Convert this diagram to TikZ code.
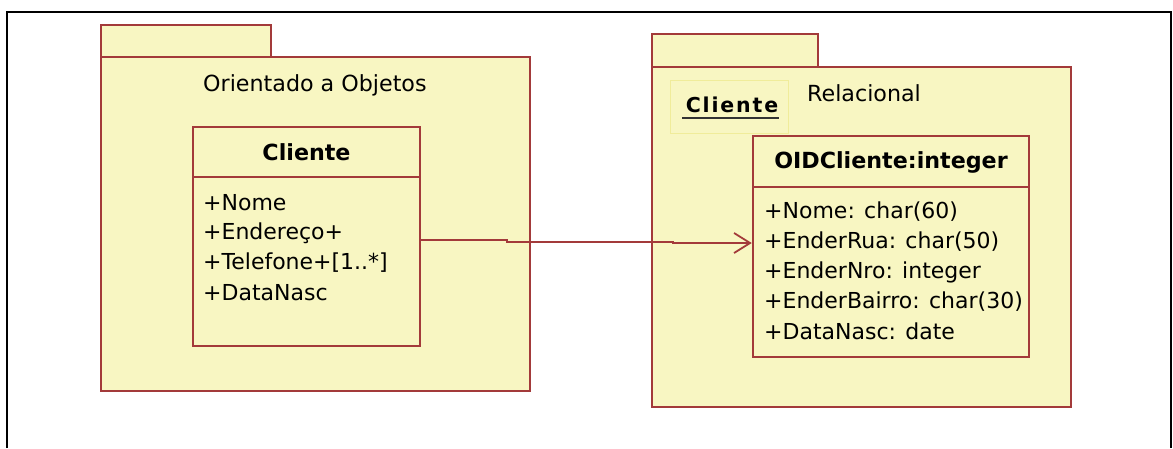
\documentclass[tikz,border=0pt]{standalone}
\usepackage{fontspec}
\setmainfont{DejaVu Sans}
\usetikzlibrary{arrows.meta}
\definecolor{pkgfill}{HTML}{F8F6C2}
\definecolor{pkgline}{HTML}{A33A3A}
\definecolor{objline}{HTML}{F0EC9A}
\tikzset{
  pkg/.style={draw=pkgline, fill=pkgfill, line width=2.5pt},
  classbox/.style={draw=pkgline, fill=pkgfill, line width=2.5pt, rectangle, inner sep=0pt},
  attr/.style={anchor=west, inner sep=0pt, font=\fontsize{22}{22}\selectfont},
  ttl/.style={inner sep=0pt, font=\bfseries\fontsize{22.2}{22}\selectfont},
  lbl/.style={anchor=west, inner sep=0pt, font=\fontsize{22.2}{22}\selectfont},
}
\begin{document}
\begin{tikzpicture}[x=1pt,y=-1pt]
\useasboundingbox (0,0) rectangle (1173,448);
% outer frame
\draw[line width=2.2pt, black] (7,448) -- (7,12) -- (1171,12) -- (1171,448);
% left package
\draw[pkg] (101,25) rectangle (271,57);
\draw[pkg] (101,57) rectangle (530,391);
\node[lbl] (lt) at (203,85) {Orientado a Objetos};
% right package
\draw[pkg] (652,34) rectangle (818,67);
\draw[pkg] (652,67) rectangle (1071,407);
\node[lbl] (rt) at (807,93) {Relacional};
% object box
\node[draw=objline, fill=pkgfill, line width=1pt, minimum width=118pt, minimum height=53pt, inner sep=0pt] (obj) at (729,106.5) {};
\node[inner sep=0pt, font=\bfseries\fontsize{20.5}{20}\selectfont\addfontfeature{LetterSpace=9}] (objt) at (732,105) {Cliente};
\draw[line width=2.5pt, black!80] (682,118) -- (779,118);
% left class
\node[classbox, minimum width=227pt, minimum height=219pt] (lc) at (306.5,236.5) {};
\draw[pkgline, line width=2.5pt] (193,177) -- (420,177);
\node[ttl] (lct) at (306.5,152) {Cliente};
\node[attr] (l1) at (203,203) {+Nome};
\node[attr] (l2) at (203,233) {+Endereço+};
\node[attr] (l3) at (203,263) {+Telefone+[1..*]};
\node[attr] (l4) at (203,293) {+DataNasc};
% right class
\node[classbox, minimum width=276pt, minimum height=221pt] (rc) at (891,246.5) {};
\draw[pkgline, line width=2.5pt] (753,187) -- (1029,187);
\node[ttl] (rct) at (891,162) {OIDCliente:integer};
\node[attr] (r1) at (764,212) {+Nome: char(60)};
\node[attr] (r2) at (764,242) {+EnderRua: char(50)};
\node[attr] (r3) at (764,272) {+EnderNro: integer};
\node[attr] (r4) at (764,302) {+EnderBairro: char(30)};
\node[attr] (r5) at (764,331) {+DataNasc: date};
% association
\coordinate (a1) at (lc.east |- 0,240);
\coordinate (a2) at (rc.west |- 0,243);
\draw[pkgline, line width=1.8pt, -{Straight Barb[length=16pt,width=20pt,line width=1.8pt]}] (a1) -- (507,240) -- (507,242) -- (673,242) -- (673,243) -- (a2);
\end{tikzpicture}
\end{document}
